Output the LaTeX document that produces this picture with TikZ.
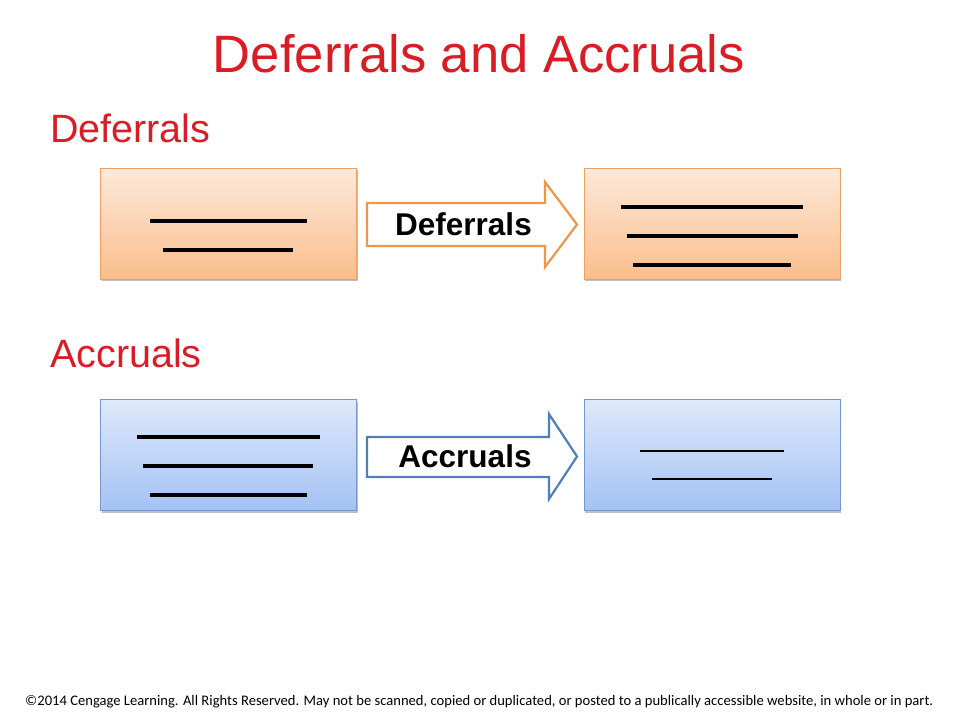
\documentclass[tikz,border=0pt]{standalone}
\usepackage{fontspec}
\setmainfont{Liberation Sans}
\newfontfamily\footfont{Carlito}
\usetikzlibrary{shadows}
\definecolor{titlered}{RGB}{218,28,36}
\definecolor{orgtop}{RGB}{253,233,218}
\definecolor{orgbot}{RGB}{250,190,140}
\definecolor{orgedge}{RGB}{236,160,100}
\definecolor{orgarrow}{RGB}{240,150,75}
\definecolor{bluetop}{RGB}{222,233,251}
\definecolor{bluebot}{RGB}{164,194,244}
\definecolor{blueedge}{RGB}{120,150,205}
\definecolor{bluearrow}{RGB}{80,128,188}
\tikzset{
  box/.style={minimum width=256pt, minimum height=111pt, inner sep=0pt, outer sep=0pt,
    line width=1pt, drop shadow={shadow xshift=1pt, shadow yshift=-2pt, opacity=0.25, fill=black}},
  obox/.style={box, draw=orgedge, top color=orgtop, bottom color=orgbot},
  bbox/.style={box, draw=blueedge, top color=bluetop, bottom color=bluebot},
  blank/.style={line width=3.2pt, black},
  thinblank/.style={line width=2.5pt, black},
  arrowshape/.style={line width=2.2pt, fill=white, line join=miter},
  arrowtext/.style={inner sep=0pt, anchor=base, font=\bfseries\fontsize{31.5}{36}\selectfont},
  heading/.style={inner sep=0pt, anchor=base west, text=titlered, font=\fontsize{39.5}{44}\selectfont}
}
\begin{document}
\begin{tikzpicture}[x=1pt, y=-1pt]
\useasboundingbox (0,0) rectangle (960,720);
\fill[white] (0,0) rectangle (960,720);
% title
\node[inner sep=0pt, anchor=base, text=titlered, font=\fontsize{52.6}{60}\selectfont] (title) at (479,72) {Deferrals and Accruals};
% headings
\node[heading] (hdef) at (50,142) {Deferrals};
\node[heading] (hacc) at (50,367) {Accruals};
% deferral boxes
\node[obox] (d1) at (228.5,223.5) {};
\node[obox] (d2) at (712,223.5) {};
\draw[blank] (150,221) -- (307,221);
\draw[blank] (163,250) -- (293,250);
\draw[blank] (621,207) -- (803,207);
\draw[blank] (627,236) -- (798,236);
\draw[blank] (633,265) -- (791,265);
% deferral arrow
\draw[arrowshape, draw=orgarrow] (367,203) -- (545,203) -- (545,182) -- (577,224.5) -- (545,267) -- (545,246) -- (367,246) -- cycle;
\node[arrowtext] (tdef) at (463.5,235) {Deferrals};
% accrual boxes
\node[bbox] (a1) at (228.5,455) {};
\node[bbox] (a2) at (712,455) {};
\draw[blank] (137,437) -- (320,437);
\draw[blank] (143,466) -- (313,466);
\draw[blank] (150,495) -- (307,495);
\draw[thinblank] (640,451) -- (784,451);
\draw[thinblank] (652,479) -- (772,479);
% accrual arrow
\draw[arrowshape, draw=bluearrow] (367,437) -- (549,437) -- (549,414) -- (577,456.5) -- (549,499) -- (549,477) -- (367,477) -- cycle;
\node[arrowtext] (tacc) at (465,467) {Accruals};
% footer
\node[inner sep=0pt, anchor=base west, font=\footfont\fontsize{14.6}{17}\selectfont] (foot) at (25,705) {\textcopyright 2014 Cengage Learning. All Rights Reserved. May not be scanned, copied or duplicated, or posted to a publically accessible website, in whole or in part.};
\end{tikzpicture}
\end{document}
